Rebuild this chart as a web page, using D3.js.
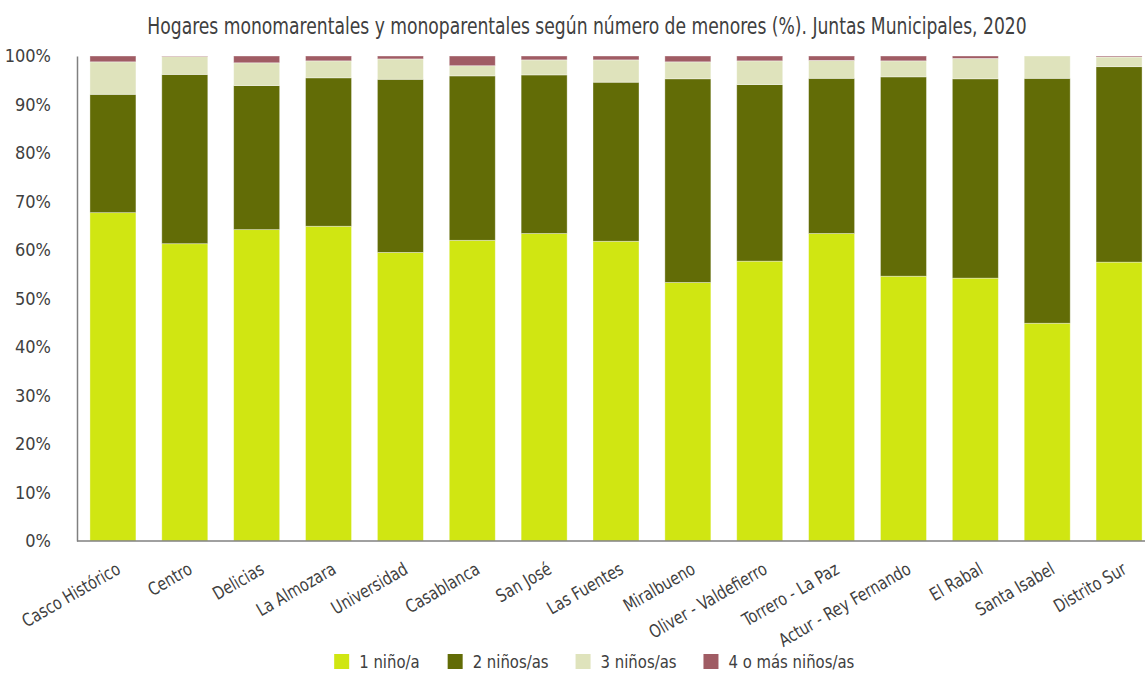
<!DOCTYPE html>
<html>
<head>
<meta charset="utf-8">
<script src="https://cdn.jsdelivr.net/npm/d3@7"></script>
<style>
  body { margin: 0; background: #fff; }
  text { font-family: "DejaVu Sans Condensed", "Liberation Sans Narrow", sans-serif; fill: #404040; }
</style>
</head>
<body>
<div id="chart"></div>
<script>
const categories = ["Casco Histórico", "Centro", "Delicias", "La Almozara", "Universidad", "Casablanca",
  "San José", "Las Fuentes", "Miralbueno", "Oliver - Valdefierro", "Torrero - La Paz",
  "Actur - Rey Fernando", "El Rabal", "Santa Isabel", "Distrito Sur"];
const seriesNames = ["1 niño/a", "2 niños/as", "3 niños/as", "4 o más niños/as"];
const uno = [67.7, 61.3, 64.2, 64.9, 59.5, 62.0, 63.4, 61.8, 53.3, 57.7, 63.4, 54.6, 54.2, 44.9, 57.5];
const dos = [24.4, 34.9, 29.7, 30.6, 35.7, 33.9, 32.7, 32.8, 42.0, 36.4, 32.0, 41.1, 41.1, 50.5, 40.3];
const tres = [6.7, 3.7, 4.7, 3.5, 4.2, 2.1, 3.1, 4.6, 3.5, 4.9, 3.7, 3.3, 4.2, 4.6, 2.0];
const cuatro = [1.2, 0.1, 1.4, 1.0, 0.6, 2.0, 0.8, 0.8, 1.2, 1.0, 0.9, 1.0, 0.5, 0.0, 0.2];
const yTicks = [0, 10, 20, 30, 40, 50, 60, 70, 80, 90, 100];
const colors = ["#d0e612", "#626c06", "#dfe3bc", "#a05c64"];

const width = 1145;
const height = 674;

const rows = categories.map((c, i) => ({
  cat: c,
  [seriesNames[0]]: uno[i],
  [seriesNames[1]]: dos[i],
  [seriesNames[2]]: tres[i],
  [seriesNames[3]]: cuatro[i]
}));

const svg = d3.select("#chart").append("svg")
  .attr("width", width)
  .attr("height", height);

const x = d3.scaleBand()
  .domain(categories)
  .range([77, 1155])
  .paddingInner(0.36)
  .paddingOuter(0.18);

const y = d3.scaleLinear()
  .domain([0, 100])
  .range([541, 56]);

const layers = d3.stack().keys(seriesNames)(rows);

svg.append("g")
  .selectAll("g")
  .data(layers)
  .join("g")
  .attr("fill", (d, i) => colors[i])
  .selectAll("rect")
  .data(d => d)
  .join("rect")
  .attr("x", d => x(d.data.cat))
  .attr("width", x.bandwidth())
  .attr("y", d => y(d[1]))
  .attr("height", d => y(d[0]) - y(d[1]))
  .attr("stroke", "#ffffff")
  .attr("stroke-opacity", 0.45)
  .attr("stroke-width", 0.8);

// y axis
const yAxis = svg.append("g")
  .attr("transform", "translate(77,0)")
  .call(d3.axisLeft(y).tickValues(yTicks).tickFormat(d => d + "%").tickSize(0).tickPadding(26));
yAxis.select(".domain").attr("stroke", "#808080").attr("stroke-width", 1.5);
yAxis.selectAll("text").attr("font-size", 18).style("fill", "#404040");

// x axis line
svg.append("line")
  .attr("x1", 77).attr("x2", width)
  .attr("y1", 541).attr("y2", 541)
  .attr("stroke", "#808080")
  .attr("stroke-width", 1.5);

// x labels (squeezed a little to look like the narrow original font)
svg.append("g")
  .selectAll("text")
  .data(categories)
  .join("text")
  .attr("transform", d => `translate(${x(d) + x.bandwidth() / 2 + 2},${561}) rotate(-30) scale(0.88,1)`)
  .attr("text-anchor", "end")
  .attr("dy", "0.75em")
  .attr("font-size", 18)
  .text(d => d);

// title
svg.append("text")
  .attr("transform", "translate(587,34) scale(0.83,1)")
  .attr("text-anchor", "middle")
  .attr("font-size", 23)
  .text("Hogares monomarentales y monoparentales según número de menores (%). Juntas Municipales, 2020");

// legend
const legend = svg.append("g");
const items = legend.selectAll("g")
  .data(seriesNames)
  .join("g");
items.append("rect")
  .attr("width", 15)
  .attr("height", 15)
  .attr("y", -8)
  .attr("fill", (d, i) => colors[i]);
items.append("text")
  .attr("transform", "translate(25,0) scale(0.92,1)")
  .attr("dy", "0.35em")
  .attr("font-size", 18)
  .text(d => d);
const gap = 34;
let lx = 0;
items.each(function() {
  d3.select(this).attr("transform", `translate(${lx},662)`);
  lx += this.getBBox().width * 0.93 + gap;
});
const total = lx - gap;
legend.attr("transform", `translate(${589 - total / 2},0)`);
</script>
</body>
</html>
